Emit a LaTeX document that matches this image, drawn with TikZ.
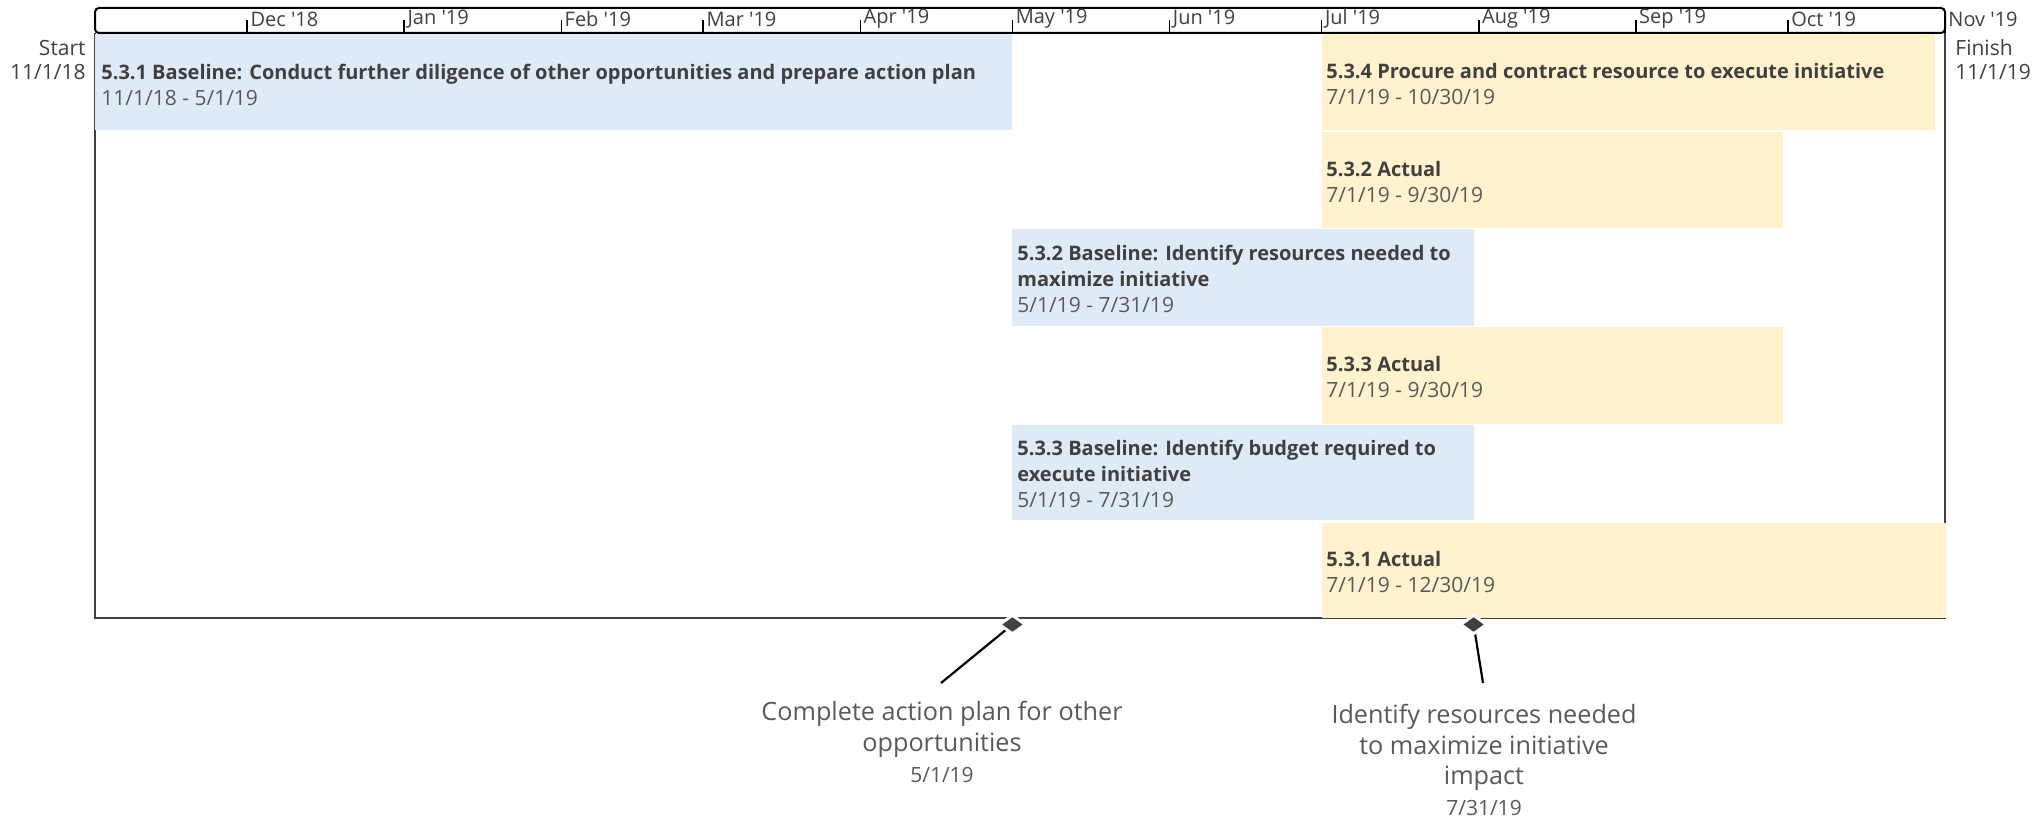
\documentclass[tikz,border=0pt]{standalone}
\usepackage{fontspec}
\setmainfont{Open Sans}[Ligatures=TeXOff]
\usetikzlibrary{shapes.geometric}
\definecolor{blbar}{HTML}{DEEBF7}
\definecolor{ylbar}{HTML}{FFF2CC}
\definecolor{txtc}{HTML}{404040}
\definecolor{datec}{HTML}{595959}
\definecolor{framec}{HTML}{404040}
\newcommand\bartitle{\fontsize{10}{13}\selectfont\bfseries}
\newcommand\bardate{\fontsize{10.5}{13}\selectfont\mdseries\color{datec}}
\newcommand\msdate{\fontsize{10.5}{15}\selectfont}
\begin{document}
\begin{tikzpicture}[x=0.5pt,y=-0.5pt,
  bartext/.style={anchor=west, inner sep=0pt, align=left, text=txtc, font=\fontsize{10}{13}\selectfont},
  monthlbl/.style={anchor=west, inner sep=0pt, font=\fontsize{10}{12}\selectfont, text=txtc},
  monthtick/.style={draw=black, line width=0.8pt},
  endlbl/.style={inner sep=0pt, font=\fontsize{10.5}{12}\selectfont, text=txtc},
  mslbl/.style={inner sep=0pt, align=center, font=\fontsize{12.6}{15.3}\selectfont, text=datec},
  msdiamond/.style={diamond, fill=txtc, preaction={draw=white, line width=3pt}, inner sep=0pt, minimum width=10.2pt, minimum height=7.4pt},
  leader/.style={draw=black, line width=1.1pt}]
\useasboundingbox (0,0) rectangle (2044,818);

% frame
\draw[framec, line width=1pt] (95,33) -- (95,618) -- (1945,618) -- (1945,33);

% bars
\fill[blbar] (95,34) rectangle (1012.4,130);
\fill[ylbar] (1321.6,34) rectangle (1934.9,130);
\fill[ylbar] (1321.6,132) rectangle (1782.8,228);
\fill[blbar] (1012.4,229) rectangle (1473.6,326);
\fill[ylbar] (1321.6,327) rectangle (1782.8,424);
\fill[blbar] (1012.4,425) rectangle (1473.6,520);
\fill[ylbar] (1321.6,523) rectangle (1946,618);

% header
\draw[black, line width=1pt, rounded corners=2pt] (95,8) rectangle (1945,33);
\foreach \xx/\nm [count=\i] in {247.1/Dec '18, 404.2/Jan '19, 561.3/Feb '19, 703.2/Mar '19, 860.3/Apr '19, 1012.4/May '19, 1169.5/Jun '19, 1321.6/Jul '19, 1478.7/Aug '19, 1635.8/Sep '19, 1787.9/Oct '19}{
  \draw[monthtick] (\xx,20) -- (\xx,33);
  \node[monthlbl] (mo\i) at (\xx+3,19) {\nm};
}
\draw[monthtick] (1945,20) -- (1945,33);
\node[monthlbl] (mo12) at (1948,19) {Nov '19};

% start / finish
\node[endlbl, anchor=east, align=right] (start) at (86,60) {Start\\11/1/18};
\node[endlbl, anchor=west, align=left] (finish) at (1955,60) {Finish\\11/1/19};

% bar texts
\node[bartext] (t1) at (101,84.5) {{\bartitle 5.3.1 Baseline: Conduct further diligence of other opportunities and prepare action plan}\\{\bardate 11/1/18 - 5/1/19}};
\node[bartext] (t2) at (1326,84.5) {{\bartitle 5.3.4 Procure and contract resource to execute initiative}\\{\bardate 7/1/19 - 10/30/19}};
\node[bartext] (t3) at (1326,182) {{\bartitle 5.3.2 Actual}\\{\bardate 7/1/19 - 9/30/19}};
\node[bartext] (t4) at (1017,278.5) {{\bartitle 5.3.2 Baseline: Identify resources needed to}\\{\bartitle maximize initiative}\\{\bardate 5/1/19 - 7/31/19}};
\node[bartext] (t5) at (1326,377) {{\bartitle 5.3.3 Actual}\\{\bardate 7/1/19 - 9/30/19}};
\node[bartext] (t6) at (1017,473.5) {{\bartitle 5.3.3 Baseline: Identify budget required to}\\{\bartitle execute initiative}\\{\bardate 5/1/19 - 7/31/19}};
\node[bartext] (t7) at (1326,572) {{\bartitle 5.3.1 Actual}\\{\bardate 7/1/19 - 12/30/19}};

% milestones
\coordinate (d1c) at (1012.4,624.5);
\coordinate (d2c) at (1473.6,624.5);
\coordinate (e1) at (941,683);
\coordinate (e2) at (1483,683);
\draw[leader] (d1c) -- (e1);
\draw[leader] (d2c) -- (e2);
\node[msdiamond] (d1) at (d1c) {};
\node[msdiamond] (d2) at (d2c) {};
\node[mslbl] (m1) at (942,742) {Complete action plan for other\\opportunities\\{\msdate 5/1/19}};
\node[mslbl] (m2) at (1484,760) {Identify resources needed\\to maximize initiative\\impact\\{\msdate 7/31/19}};
\end{tikzpicture}
\end{document}
